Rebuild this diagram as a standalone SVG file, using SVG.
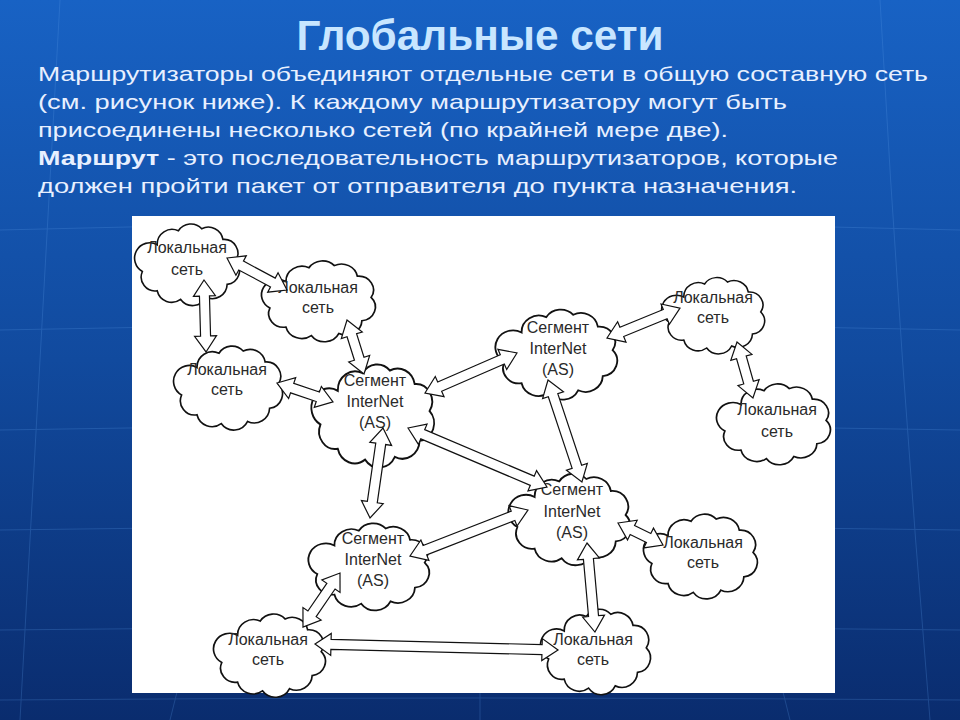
<svg xmlns="http://www.w3.org/2000/svg" xmlns:xlink="http://www.w3.org/1999/xlink" width="960" height="720" viewBox="0 0 960 720">
<defs>
<linearGradient id="bg" x1="0" y1="0" x2="0" y2="1">
<stop offset="0" stop-color="#1862c4"/>
<stop offset="0.5" stop-color="#114a9e"/>
<stop offset="1" stop-color="#0a2c6e"/>
</linearGradient>
<path id="cloud" d="M20,25 A14,14 0 0 1 40,12 A14,14 0 0 1 62,10 A14,14 0 0 1 82,20 A13,13 0 0 1 94,40 A13,13 0 0 1 86,62 A14,14 0 0 1 66,74 A14,14 0 0 1 42,76 A14,14 0 0 1 20,68 A13,13 0 0 1 6,50 A13,13 0 0 1 20,25 Z"/>
<style>
.cl{fill:#fff;stroke:#111;stroke-width:1.5;vector-effect:non-scaling-stroke}
.lb{font-family:"Liberation Sans",Arial,sans-serif;font-size:16px;fill:#2a2a2a;text-anchor:middle}
.ar{fill:#fff;stroke:#111;stroke-width:1.2;stroke-linejoin:miter}
.body{font-family:"Liberation Sans",Arial,sans-serif;font-size:21px;fill:#e8f0ff}
.grid{stroke:#5a9ae6;stroke-width:1;opacity:0.25;fill:none}
</style>
</defs>
<rect x="0" y="0" width="960" height="720" fill="url(#bg)"/>
<g class="grid">
<path d="M0,230 Q480,215 960,230"/>
<path d="M0,330 Q480,318 960,330"/>
<path d="M0,430 Q480,420 960,430"/>
<path d="M0,530 Q480,522 960,530"/>
<path d="M0,630 Q480,624 960,630"/>
<path d="M0,700 Q480,696 960,700"/>
<path d="M60,0 Q40,360 20,720"/>
<path d="M880,0 Q900,360 930,720"/>
<path d="M200,600 L170,720"/>
<path d="M760,600 L790,720"/>
<path d="M480,690 L480,720"/>
</g>
<text x="480" y="50" text-anchor="middle" font-family="Liberation Sans,Arial,sans-serif" font-weight="bold" font-size="42" fill="#c8e6ff" textLength="367" lengthAdjust="spacingAndGlyphs">Глобальные сети</text>
<text class="body" x="38" y="81" textLength="890" lengthAdjust="spacingAndGlyphs">Маршрутизаторы объединяют отдельные сети в общую составную сеть</text>
<text class="body" x="38" y="109" textLength="749" lengthAdjust="spacingAndGlyphs">(см. рисунок ниже). К каждому маршрутизатору могут быть</text>
<text class="body" x="38" y="137" textLength="690" lengthAdjust="spacingAndGlyphs">присоединены несколько сетей (по крайней мере две).</text>
<text class="body" x="38" y="165" textLength="800" lengthAdjust="spacingAndGlyphs"><tspan font-weight="bold">Маршрут</tspan> - это последовательность маршрутизаторов, которые</text>
<text class="body" x="38" y="193" textLength="759" lengthAdjust="spacingAndGlyphs">должен пройти пакет от отправителя до пункта назначения.</text>
<rect x="132" y="216" width="703" height="477" fill="#fff"/>
<g id="local-a"><use xlink:href="#cloud" class="cl" transform="translate(136,218) scale(1.06,1.07)"/><text class="lb" x="187" y="253">Локальная</text><text class="lb" x="187" y="275">сеть</text></g>
<g id="local-b"><use xlink:href="#cloud" class="cl" transform="translate(263,255) scale(1.15,1.06)"/><text class="lb" x="318" y="293">Локальная</text><text class="lb" x="318" y="313">сеть</text></g>
<g id="local-c"><use xlink:href="#cloud" class="cl" transform="translate(175,340) scale(1.1,1.1)"/><text class="lb" x="227" y="375">Локальная</text><text class="lb" x="227" y="395">сеть</text></g>
<g id="seg-1"><use xlink:href="#cloud" class="cl" transform="translate(313,357) scale(1.24,1.35)"/><text class="lb" x="375" y="386">Сегмент</text><text class="lb" x="375" y="407">InterNet</text><text class="lb" x="375" y="428">(AS)</text></g>
<g id="seg-2"><use xlink:href="#cloud" class="cl" transform="translate(497,303) scale(1.23,1.18)"/><text class="lb" x="558" y="333">Сегмент</text><text class="lb" x="558" y="354">InterNet</text><text class="lb" x="558" y="375">(AS)</text></g>
<g id="local-d"><use xlink:href="#cloud" class="cl" transform="translate(663,272) scale(1.04,1.0)"/><text class="lb" x="713" y="303">Локальная</text><text class="lb" x="713" y="323">сеть</text></g>
<g id="local-e"><use xlink:href="#cloud" class="cl" transform="translate(718,378) scale(1.15,1.06)"/><text class="lb" x="777" y="415">Локальная</text><text class="lb" x="777" y="437">сеть</text></g>
<g id="seg-3"><use xlink:href="#cloud" class="cl" transform="translate(510,467) scale(1.23,1.2)"/><text class="lb" x="572" y="495">Сегмент</text><text class="lb" x="572" y="517">InterNet</text><text class="lb" x="572" y="538">(AS)</text></g>
<g id="local-f"><use xlink:href="#cloud" class="cl" transform="translate(645,508) scale(1.15,1.11)"/><text class="lb" x="703" y="548">Локальная</text><text class="lb" x="703" y="568">сеть</text></g>
<g id="seg-4"><use xlink:href="#cloud" class="cl" transform="translate(310,517) scale(1.22,1.14)"/><text class="lb" x="373" y="544">Сегмент</text><text class="lb" x="373" y="565">InterNet</text><text class="lb" x="373" y="586">(AS)</text></g>
<g id="local-g"><use xlink:href="#cloud" class="cl" transform="translate(215,608) scale(1.13,1.09)"/><text class="lb" x="268" y="645">Локальная</text><text class="lb" x="268" y="665">сеть</text></g>
<g id="local-h"><use xlink:href="#cloud" class="cl" transform="translate(542,603) scale(1.11,1.12)"/><text class="lb" x="593" y="645">Локальная</text><text class="lb" x="593" y="665">сеть</text></g>
<g id="connectors">
<path class="ar" transform="translate(227,258) rotate(28.1)" d="M0,0 L16,-11 L16,-5 L52,-5 L52,-11 L68,0 L52,11 L52,5 L16,5 L16,11 Z"/>
<path class="ar" transform="translate(204,280) rotate(88.4)" d="M0,0 L16,-11 L16,-5 L56,-5 L56,-11 L72,0 L56,11 L56,5 L16,5 L16,11 Z"/>
<path class="ar" transform="translate(347,320) rotate(72.5)" d="M0,0 L16,-11 L16,-5 L40.6,-5 L40.6,-11 L56.6,0 L40.6,11 L40.6,5 L16,5 L16,11 Z"/>
<path class="ar" transform="translate(277,383) rotate(18.7)" d="M0,0 L16,-11 L16,-5 L43.1,-5 L43.1,-11 L59.1,0 L43.1,11 L43.1,5 L16,5 L16,11 Z"/>
<path class="ar" transform="translate(425,393) rotate(-23.5)" d="M0,0 L16,-11 L16,-5 L84.3,-5 L84.3,-11 L100.3,0 L84.3,11 L84.3,5 L16,5 L16,11 Z"/>
<path class="ar" transform="translate(408,428) rotate(23)" d="M0,0 L16,-11 L16,-5 L135,-5 L135,-11 L151,0 L135,11 L135,5 L16,5 L16,11 Z"/>
<path class="ar" transform="translate(383,428) rotate(98.2)" d="M0,0 L16,-11 L16,-5 L74.9,-5 L74.9,-11 L90.9,0 L74.9,11 L74.9,5 L16,5 L16,11 Z"/>
<path class="ar" transform="translate(607,338) rotate(-22.3)" d="M0,0 L16,-11 L16,-5 L62.9,-5 L62.9,-11 L78.9,0 L62.9,11 L62.9,5 L16,5 L16,11 Z"/>
<path class="ar" transform="translate(548,380) rotate(71.6)" d="M0,0 L16,-11 L16,-5 L91.5,-5 L91.5,-11 L107.5,0 L91.5,11 L91.5,5 L16,5 L16,11 Z"/>
<path class="ar" transform="translate(737,342) rotate(74.1)" d="M0,0 L16,-11 L16,-5 L42.2,-5 L42.2,-11 L58.2,0 L42.2,11 L42.2,5 L16,5 L16,11 Z"/>
<path class="ar" transform="translate(410,556) rotate(-21.3)" d="M0,0 L16,-11 L16,-5 L110.6,-5 L110.6,-11 L126.6,0 L110.6,11 L110.6,5 L16,5 L16,11 Z"/>
<path class="ar" transform="translate(618,523) rotate(26.1)" d="M0,0 L16,-11 L16,-5 L34.1,-5 L34.1,-11 L50.1,0 L34.1,11 L34.1,5 L16,5 L16,11 Z"/>
<path class="ar" transform="translate(587,543) rotate(84.9)" d="M0,0 L16,-11 L16,-5 L73.4,-5 L73.4,-11 L89.4,0 L73.4,11 L73.4,5 L16,5 L16,11 Z"/>
<path class="ar" transform="translate(340,573) rotate(124.4)" d="M0,0 L16,-11 L16,-5 L49.5,-5 L49.5,-11 L65.5,0 L49.5,11 L49.5,5 L16,5 L16,11 Z"/>
<path class="ar" transform="translate(315,644) rotate(1.41)" d="M0,0 L16,-11 L16,-5 L227.1,-5 L227.1,-11 L243.1,0 L227.1,11 L227.1,5 L16,5 L16,11 Z"/>
</g>
</svg>
